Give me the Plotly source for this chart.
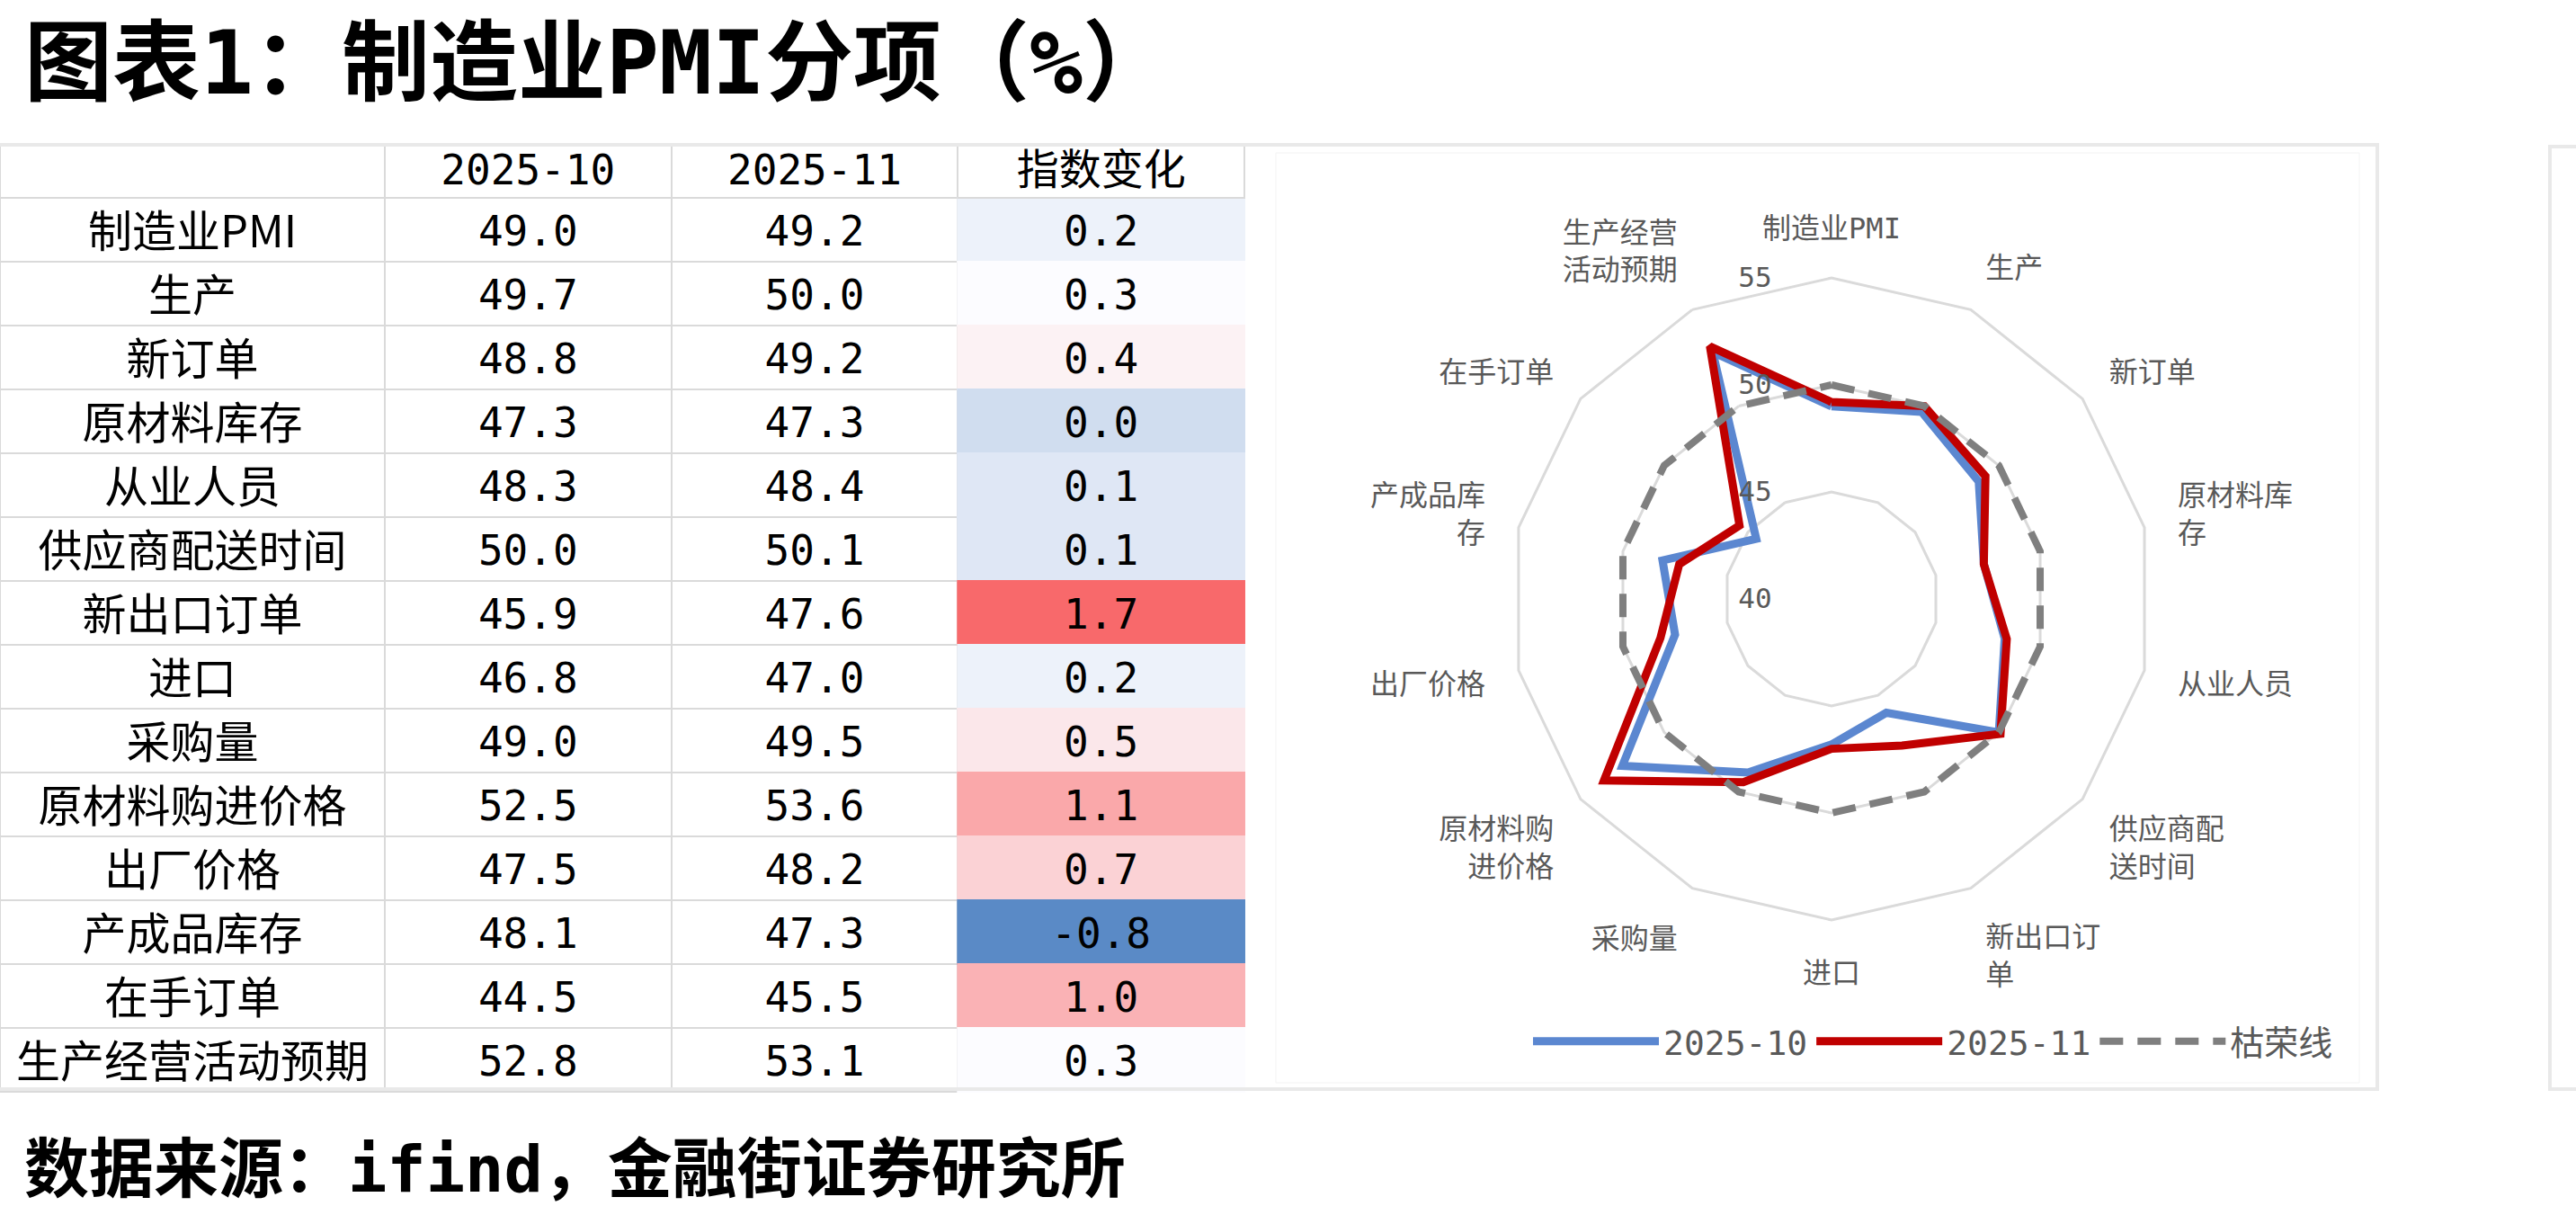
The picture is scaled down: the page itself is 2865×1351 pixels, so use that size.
import numpy as np
import plotly.graph_objects as go

W, H = 2865, 1351

# ---------------- data ----------------
categories = ["制造业PMI", "生产", "新订单", "原材料库存", "从业人员", "供应商配送时间",
              "新出口订单", "进口", "采购量", "原材料购进价格", "出厂价格", "产成品库存",
              "在手订单", "生产经营活动预期"]
radar_labels = ["制造业PMI", "生产", "新订单", "原材料库<br>存", "从业人员", "供应商配<br>送时间",
                "新出口订<br>单", "进口", "采购量", "原材料购<br>进价格", "出厂价格", "产成品库<br>存",
                "在手订单", "生产经营<br>活动预期"]
pmi_2025_10 = [49.0, 49.7, 48.8, 47.3, 48.3, 50.0, 45.9, 46.8, 49.0, 52.5, 47.5, 48.1, 44.5, 52.8]
pmi_2025_11 = [49.2, 50.0, 49.2, 47.3, 48.4, 50.1, 47.6, 47.0, 49.5, 53.6, 48.2, 47.3, 45.5, 53.1]
index_change = [0.2, 0.3, 0.4, 0.0, 0.1, 0.1, 1.7, 0.2, 0.5, 1.1, 0.7, -0.8, 1.0, 0.3]
boom_line = [50] * len(categories)
header_labels = ["", "2025-10", "2025-11", "指数变化"]
series_names = ["2025-10", "2025-11", "枯荣线"]
radial_ticks = [40, 45, 50, 55]

# --------------- helpers ---------------
def px_x(x):
    return x / W

def px_y(y):
    return 1 - y / H

def lerp_hex(c1, c2, t):
    a = [int(c1[i:i + 2], 16) for i in (1, 3, 5)]
    b = [int(c2[i:i + 2], 16) for i in (1, 3, 5)]
    return "#" + "".join(f"{round(a[k] + (b[k] - a[k]) * t):02X}" for k in range(3))

# Excel style 3-colour scale: min blue, median white, max red
BLUE, WHITE, RED = "#5A8AC6", "#FCFCFF", "#F8696B"
vmin, vmed, vmax = min(index_change), float(np.median(index_change)), max(index_change)
def scale_color(v):
    if v <= vmed:
        return lerp_hex(BLUE, WHITE, (v - vmin) / (vmed - vmin))
    return lerp_hex(WHITE, RED, (v - vmed) / (vmax - vmed))
change_colors = [scale_color(v) for v in index_change]

CJK = "Noto Sans CJK SC"
MONO = "DejaVu Sans Mono"
MIX = MONO + ", " + CJK
GRID = "#DADADA"
CLEAR = "rgba(0,0,0,0)"
n = len(categories)

fig = go.Figure()

# ---------------- table: fills, rules and header ----------------
TOP, HEAD_H, ROW_H = 162, 58, 71
TEXT_DROP = 10
col_w = [427, 318, 318, 318]
fig.add_trace(go.Table(
    domain=dict(x=[0, px_x(1384)], y=[px_y(TOP + HEAD_H + n * ROW_H + 2), px_y(TOP)]),
    columnwidth=col_w,
    header=dict(
        values=header_labels, height=HEAD_H, align="center",
        fill=dict(color="white"),
        line=dict(color=GRID, width=2),
        font=dict(family=[CJK, MONO, MONO, CJK], size=[46, 46, 46, 47], color="black"),
    ),
    cells=dict(
        values=[[""] * n] * 4, height=ROW_H,
        fill=dict(color=[["white"] * n, ["white"] * n, ["white"] * n, change_colors]),
        line=dict(color=[[GRID] * n, [GRID] * n, [GRID] * n, change_colors], width=2),
    ),
))
# ---------------- table: cell texts (vertically centred) ----------------
fig.add_trace(go.Table(
    domain=dict(x=[0, px_x(1384)],
                y=[px_y(TOP + TEXT_DROP + HEAD_H + n * ROW_H + 2), px_y(TOP + TEXT_DROP)]),
    columnwidth=col_w,
    header=dict(values=[""] * 4, height=HEAD_H, fill=dict(color=CLEAR), line=dict(color=CLEAR, width=0)),
    cells=dict(
        values=[categories, pmi_2025_10, pmi_2025_11, index_change],
        format=[None, ".1f", ".1f", ".1f"],
        height=ROW_H, align="center",
        fill=dict(color=CLEAR), line=dict(color=CLEAR, width=0),
        font=dict(family=[CJK, MONO, MONO, MONO], size=[49, 46, 46, 46], color="black"),
    ),
))

# ---------------- radar ----------------
cx, cy, R = 2037, 666, 357
theta_closed = categories + [categories[0]]
fig.add_trace(go.Scatterpolar(
    r=pmi_2025_10 + [pmi_2025_10[0]], theta=theta_closed, mode="lines",
    name=series_names[0], line=dict(color="#5B87D0", width=9), hoverinfo="skip"))
fig.add_trace(go.Scatterpolar(
    r=pmi_2025_11 + [pmi_2025_11[0]], theta=theta_closed, mode="lines",
    name=series_names[1], line=dict(color="#C00000", width=9), hoverinfo="skip"))
fig.add_trace(go.Scatterpolar(
    r=boom_line + [boom_line[0]], theta=theta_closed, mode="lines",
    name=series_names[2], line=dict(color="#7F7F7F", width=8, dash="26px,16px"), hoverinfo="skip"))

fig.update_layout(
    polar=dict(
        domain=dict(x=[px_x(cx - R), px_x(cx + R)], y=[px_y(cy + R), px_y(cy - R)]),
        bgcolor="white",
        gridshape="linear",
        angularaxis=dict(
            rotation=90, direction="clockwise", type="category",
            categoryarray=categories,
            tickmode="array", tickvals=categories, ticktext=radar_labels,
            showgrid=False, showline=True, linecolor=GRID, linewidth=3,
            ticks="outside", ticklen=30, tickcolor=CLEAR,
            tickfont=dict(family=MIX, size=32, color="#595959"),
        ),
        radialaxis=dict(
            range=[40, 55], tickmode="array", tickvals=radial_ticks,
            angle=90, tickangle=90, side="counterclockwise",
            showline=False, ticks="outside", ticklen=55, tickcolor=CLEAR,
            gridcolor=GRID, gridwidth=3,
            tickfont=dict(family=MONO, size=31, color="#595959"),
        ),
    ),
    showlegend=True,
    legend=dict(orientation="h", x=px_x(2150), xanchor="center", y=px_y(1158), yanchor="middle",
                font=dict(family=MIX, size=38, color="#595959"),
                itemwidth=140, bgcolor=CLEAR),
    width=W, height=H, autosize=False,
    margin=dict(l=0, r=0, t=0, b=0),
    paper_bgcolor="white", plot_bgcolor="white",
)

# ---------------- frames & text ----------------
shapes = [
    dict(type="rect", xref="paper", yref="paper", x0=px_x(-10), x1=px_x(2644), y0=px_y(1211), y1=px_y(161),
         line=dict(color="#E9E9E9", width=4), layer="above"),
    dict(type="rect", xref="paper", yref="paper", x0=px_x(1419), x1=px_x(2624), y0=px_y(1204), y1=px_y(170),
         line=dict(color="#F3F3F3", width=1), layer="below"),
    dict(type="rect", xref="paper", yref="paper", x0=px_x(2836), x1=px_x(2900), y0=px_y(1211), y1=px_y(163),
         line=dict(color="#E9E9E9", width=4)),
]
fig.update_layout(shapes=shapes)

fig.add_annotation(text="<b>图表1：制造业PMI分项（%）</b>", xref="paper", yref="paper",
                   x=px_x(25), y=px_y(70), xanchor="left", yanchor="middle", showarrow=False,
                   font=dict(family=MIX, size=98, color="black"))
fig.add_annotation(text="<b>数据来源：ifind，金融街证券研究所</b>", xref="paper", yref="paper",
                   x=px_x(25), y=px_y(1300), xanchor="left", yanchor="middle", showarrow=False,
                   font=dict(family=MIX, size=72, color="black"))

fig.write_html("out.html")
